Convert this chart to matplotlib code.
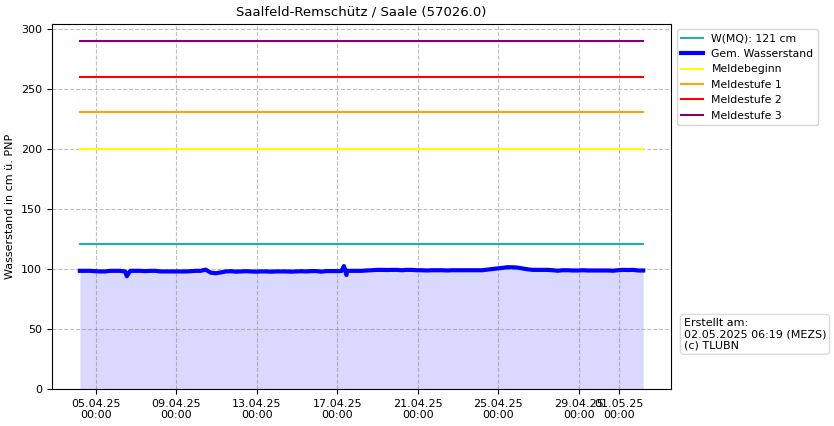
import datetime as dt

import matplotlib
matplotlib.use("Agg")
import matplotlib.pyplot as plt
import matplotlib.dates as mdates

# water level, 6-hourly from 04.04.2025 05:00
start = dt.datetime(2025, 4, 4, 5, 0)
pegel_6h = [
    98.5, 98.5, 98.5, 98.2, 98.0, 98.0, 98.5, 98.5, 98.5, 98.0,
    98.5, 98.5, 98.5, 98.3, 98.5, 98.5, 98.0, 98.0, 98.0, 98.0,
    98.0, 98.0, 98.2, 98.5, 98.5, 99.5, 97.0, 96.5, 97.2, 98.0,
    98.2, 97.8, 98.0, 98.2, 98.0, 97.8, 98.0, 98.0, 97.8, 98.0,
    98.0, 98.0, 97.8, 98.0, 98.2, 98.0, 98.3, 98.3, 97.8, 98.3,
    98.3, 98.3, 98.3, 98.5, 98.5, 98.5, 98.5, 98.8, 99.0, 99.3,
    99.3, 99.2, 99.3, 99.3, 99.0, 99.3, 99.3, 99.0, 99.0, 98.8,
    99.0, 99.0, 99.0, 98.8, 99.0, 99.0, 99.0, 99.0, 99.0, 99.0,
    99.0, 99.5, 100.0, 100.5, 101.0, 101.5, 101.5, 101.2, 100.5, 99.8,
    99.3, 99.3, 99.3, 99.3, 99.0, 98.6, 99.0, 99.0, 98.8, 98.8,
    99.0, 98.8, 98.8, 98.8, 98.8, 98.8, 98.6, 99.0, 99.3, 99.2,
    99.3, 98.8, 98.8,
]
# short spikes between the 6-hourly values
spike_times = [dt.datetime(2025, 4, 6, 13, 0), dt.datetime(2025, 4, 17, 8, 0),
               dt.datetime(2025, 4, 17, 11, 0)]
spike_values = [94.0, 102.5, 95.0]

mq = 121
melde = [("Meldebeginn", 200, "yellow"), ("Meldestufe 1", 231, "orange"),
         ("Meldestufe 2", 260, "red"), ("Meldestufe 3", 290, "purple")]

pts = [(start + dt.timedelta(hours=6 * i), v) for i, v in enumerate(pegel_6h)]
pts += list(zip(spike_times, spike_values))
pts.sort()
times = [p[0] for p in pts]
values = [p[1] for p in pts]
t0, t1 = times[0], times[-1]

fig = plt.figure(figsize=(8.34, 4.26), dpi=100)
ax = fig.add_axes([0.062, 0.087, 0.743, 0.857])

ax.plot([t0, t1], [mq, mq], color="lightseagreen", lw=1.5, label="W(MQ): %d cm" % mq)
ax.plot(times, values, color="blue", lw=3, label="Gem. Wasserstand")
ax.fill_between(times, values, 0, color="blue", alpha=0.15, lw=0)
for name, level, col in melde:
    ax.plot([t0, t1], [level, level], color=col, lw=1.5, label=name)

ax.set_ylim(bottom=0)
ax.set_title("Saalfeld-Remschütz / Saale (57026.0)", fontsize=9.5)
ax.set_ylabel("Wasserstand in cm ü. PNP", fontsize=8)
ax.xaxis.set_major_locator(mdates.DayLocator(bymonthday=[1, 5, 9, 13, 17, 21, 25, 29]))
ax.xaxis.set_major_formatter(mdates.DateFormatter("%d.%m.%y\n%H:%M"))
ax.tick_params(labelsize=8)
ax.grid(True, linestyle="--", color="grey", alpha=0.5)

ax.legend(loc="upper left", bbox_to_anchor=(1.0, 1.0), fontsize=7.8)
ax.text(1.02, 0.104, "Erstellt am:\n02.05.2025 06:19 (MEZS)\n(c) TLUBN",
        transform=ax.transAxes, fontsize=8, va="bottom", ha="left",
        bbox=dict(boxstyle="round", facecolor="white", edgecolor="lightgrey", alpha=0.8))

fig.savefig("out.png", dpi=100)
